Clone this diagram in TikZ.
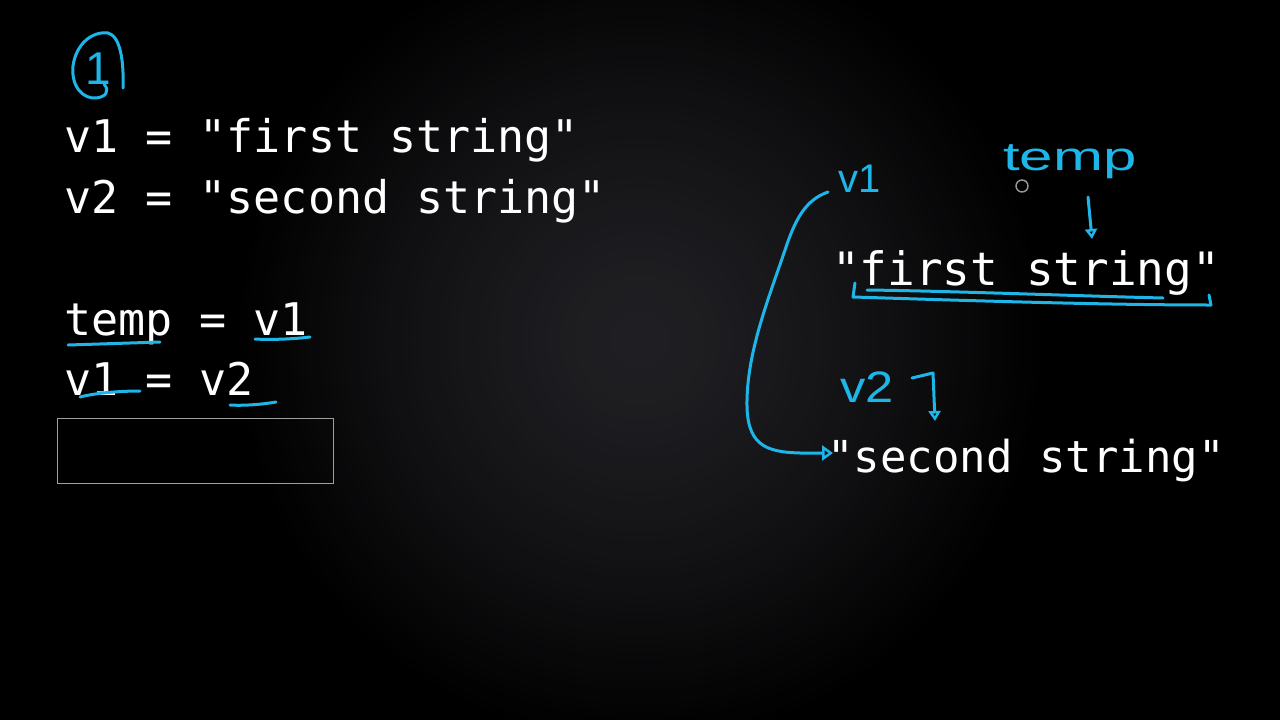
\documentclass[tikz,border=0pt]{standalone}
\usepackage{fontspec}
\setmonofont{DejaVu Sans Mono}
\newfontfamily\hand{Liberation Sans}
\usetikzlibrary{arrows.meta}
\definecolor{pen}{RGB}{30,182,232}
\definecolor{bgc}{RGB}{31,31,35}
\tikzset{
  code/.style={text=white, font=\ttfamily\fontsize{#1}{#1}\selectfont, anchor=base west, inner sep=0pt},
  code/.default=45,
  hw/.style={text=pen, font=\hand\fontsize{#1}{#1}\selectfont, anchor=base west, inner sep=0pt},
  hw/.default=40,
  penline/.style={draw=pen, line width=3pt, line cap=round, line join=round},
  penarrow/.style={penline, -{Triangle[open, length=11pt, width=15pt, line width=2.5pt]}},
}
\begin{document}
\begin{tikzpicture}[x=1pt, y=-1pt]
\useasboundingbox (0,0) rectangle (1280,720);
\fill[black] (0,0) rectangle (1280,720);
\foreach \i in {1,...,40}{
  \pgfmathsetmacro\rr{400*(1-(\i-1)/40)^0.7}
  \pgfmathsetmacro\pp{100*\i/40}
  \fill[bgc!\pp!black] (640,340) circle[radius=\rr pt];
}

% code on the left
\node[code] (l1) at (64,152) {v1 = "first string"};
\node[code] (l2) at (64,213) {v2 = "second string"};
\node[code] (l3) at (64,335) {temp = v1};
\node[code] (l4) at (64,395) {v1 = v2};
\node[draw=gray!75, line width=1.2pt, minimum width=276pt, minimum height=65pt, inner sep=0pt, anchor=north west] (box) at (57,418) {};

% strings on the right
\node[code=46] (s1) at (832,285) {"first string"};
\node[code=44] (s2) at (827,472) {"second string"};

% circled 1
\node[hw=46] (one) at (85,84) {1};
\draw[penline] (123,88) .. controls (124,60) and (120,36) .. (108,33)
  .. controls (92,31) and (76,44) .. (73,66)
  .. controls (71,88) and (84,99) .. (96,98)
  .. controls (106,97) and (110,91) .. (104,84);

% underlines on the left
\draw[penline] (68,345) .. controls (100,344) and (130,343) .. (160,342);
\draw[penline] (255,339) .. controls (270,340) and (295,339) .. (310,337);
\draw[penline] (80,397) .. controls (95,393) and (120,391) .. (140,391);
\draw[penline] (230,405) .. controls (245,406) and (265,404) .. (276,402);

% handwritten labels on the right
\node[hw=40] (hv1) at (838,192) {v1};
\node[hw=40] (htemp) at (1003,170) {\scalebox{1.5}[1]{temp}};
\node[hw=44] (hv2) at (840,402) {\scalebox{1.15}[1]{v2}};

% pen cursor
\draw[gray!80, line width=1.4pt] (1022,186) circle[radius=6pt];

% underline bracket of "first string"
\draw[penline] (867,290) .. controls (950,291) and (1080,296) .. (1163,298);
\draw[penline] (855,283) -- (853,297) .. controls (950,300) and (1100,305) .. (1211,305) -- (1209,295);

% arrows
\coordinate (v1start) at ([xshift=-10pt]hv1.base west);
\coordinate (s2in) at (833,453);
\draw[penarrow] (v1start) .. controls (805,200) and (795,220) .. (785,250)
  .. controls (768,300) and (748,350) .. (747,400)
  .. controls (746,445) and (765,452) .. (800,453) -- (s2in);

\coordinate (tempstart) at (1088,197);
\coordinate (s1in) at (1092,239);
\draw[penline, -{Triangle[open, length=10pt, width=12pt, line width=2.5pt]}] (tempstart) -- (s1in);

\coordinate (v2start) at (912,378);
\coordinate (s2top) at (935,421);
\draw[penline, -{Triangle[open, length=10pt, width=12pt, line width=2.5pt]}] (v2start) -- (933,373) -- (s2top);
\end{tikzpicture}
\end{document}
